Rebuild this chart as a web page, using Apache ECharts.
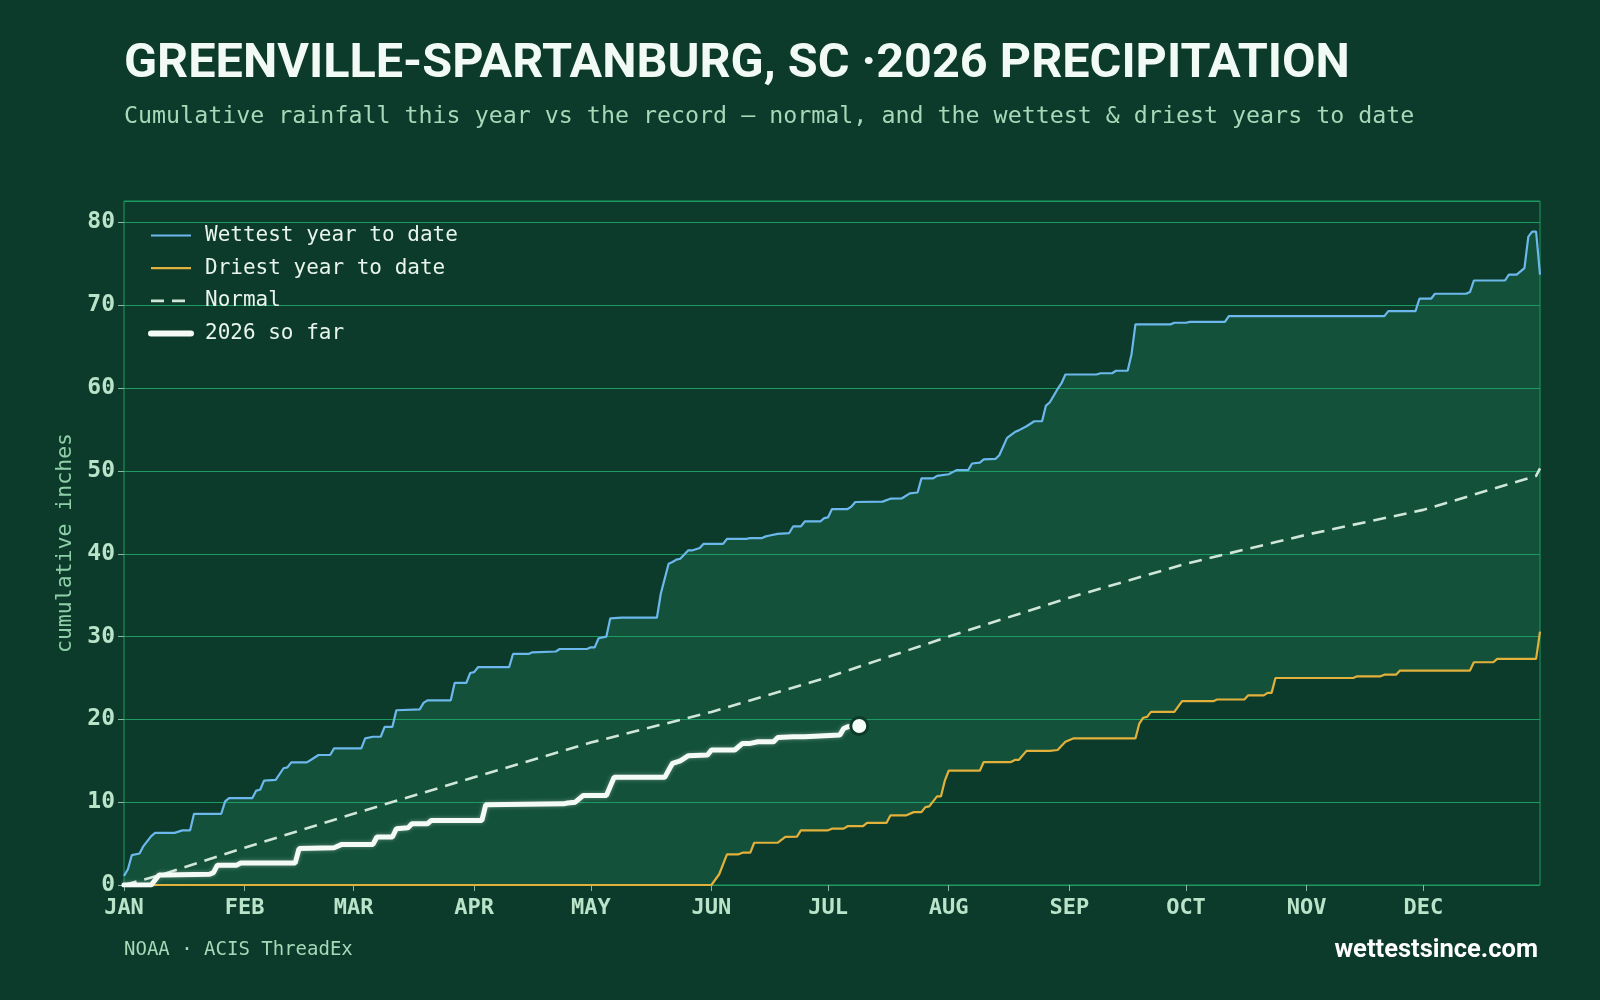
<!DOCTYPE html>
<html>
<head>
<meta charset="utf-8">
<script src="https://cdn.jsdelivr.net/npm/echarts@6/dist/echarts.min.js"></script>
<style>
  html, body { margin: 0; padding: 0; background: #0c3a2b; }
  #chart { width: 1600px; height: 1000px; }
</style>
</head>
<body>
<div id="chart"></div>
<script>
// day of year (0 = Jan 1) and cumulative inches
var monthStarts = [0, 31, 59, 90, 120, 151, 181, 212, 243, 273, 304, 334];
var monthLabels = ['JAN', 'FEB', 'MAR', 'APR', 'MAY', 'JUN', 'JUL', 'AUG', 'SEP', 'OCT', 'NOV', 'DEC'];

var wettest = [
  [0, 1.1], [1, 1.9], [2, 3.6], [4, 3.8], [5, 4.7], [7, 5.9], [8, 6.3], [13, 6.3], [15, 6.6], [17, 6.6],
  [18, 8.6], [25, 8.6], [26, 10.1], [27, 10.5], [33, 10.5], [34, 11.4], [35, 11.5], [36, 12.6], [39, 12.7],
  [41, 14.1], [42, 14.2], [43, 14.8], [47, 14.8], [48, 15.1], [49, 15.4], [50, 15.7], [53, 15.7], [54, 16.5],
  [61, 16.5], [62, 17.7], [64, 17.9], [66, 17.9], [67, 19.1], [69, 19.1], [70, 21.1], [76, 21.2], [77, 22.0],
  [78, 22.3], [84, 22.3], [85, 24.4], [88, 24.4], [89, 25.6], [90, 25.7], [91, 26.3], [99, 26.3], [100, 27.9],
  [104, 27.9], [105, 28.1], [111, 28.2], [112, 28.5], [119, 28.5], [120, 28.7], [121, 28.7], [122, 29.8],
  [124, 30.0], [125, 32.2], [128, 32.3], [137, 32.3], [138, 35.2], [140, 38.8], [141, 39.0], [142, 39.3],
  [143, 39.4], [145, 40.4], [146, 40.4], [148, 40.7], [149, 41.2], [154, 41.2], [155, 41.8], [160, 41.8],
  [161, 41.9], [164, 41.9], [165, 42.1], [166, 42.2], [168, 42.4], [171, 42.5], [172, 43.3], [174, 43.3],
  [175, 43.9], [179, 43.9], [180, 44.3], [181, 44.4], [182, 45.4], [186, 45.4], [187, 45.7], [188, 46.25],
  [195, 46.3], [197, 46.65], [200, 46.7], [202, 47.3], [204, 47.4], [205, 49.1], [208, 49.1], [209, 49.4],
  [212, 49.6], [214, 50.1], [217, 50.1], [218, 50.9], [220, 51.0], [221, 51.4], [224, 51.45], [225, 51.9],
  [227, 54.0], [229, 54.7], [230, 54.9], [232, 55.4], [234, 56.0], [236, 56.0], [237, 57.9], [238, 58.3],
  [240, 59.9], [241, 60.6], [242, 61.65], [250, 61.65], [251, 61.8], [254, 61.8], [255, 62.1], [258, 62.1],
  [259, 64.1], [260, 67.7], [269, 67.7], [270, 67.9], [273, 67.9], [274, 68.0], [283, 68.0], [284, 68.7],
  [324, 68.7], [325, 69.3], [332, 69.3], [333, 70.8], [336, 70.8], [337, 71.4], [345, 71.4], [346, 71.6],
  [347, 73.0], [355, 73.0], [356, 73.7], [358, 73.7], [359, 74.1], [360, 74.5], [361, 78.3], [362, 78.9],
  [363, 78.9], [364, 73.7]
];

var driest = [
  [0, 0], [151, 0], [153, 1.3], [155, 3.7], [158, 3.7], [159, 3.9], [161, 3.9], [162, 5.1], [168, 5.1],
  [170, 5.8], [173, 5.85], [174, 6.6], [181, 6.6], [182, 6.8], [185, 6.8], [186, 7.1], [190, 7.1], [191, 7.5],
  [196, 7.5], [197, 8.4], [201, 8.4], [203, 8.8], [205, 8.8], [206, 9.4], [207, 9.5], [209, 10.7], [210, 10.7],
  [211, 12.6], [212, 13.8], [220, 13.8], [221, 14.85], [228, 14.85], [229, 15.1], [230, 15.1], [232, 16.2],
  [238, 16.2], [240, 16.3], [242, 17.3], [244, 17.7], [260, 17.7], [261, 19.5], [262, 20.2], [263, 20.3],
  [264, 20.9], [270, 20.9], [272, 22.2], [280, 22.2], [281, 22.4], [288, 22.4], [289, 22.9], [293, 22.9],
  [294, 23.2], [295, 23.2], [296, 25.0], [316, 25.0], [317, 25.2], [323, 25.2], [324, 25.4], [327, 25.4],
  [328, 25.9], [346, 25.9], [347, 26.9], [352, 26.9], [353, 27.3], [363, 27.3], [364, 30.6]
];

var normal = [
  [0, 0], [10, 1.3], [31, 4.5], [59, 8.6], [90, 13.0], [120, 17.2], [151, 20.9], [181, 25.1], [212, 30.0],
  [243, 34.7], [273, 38.8], [304, 42.3], [334, 45.3], [363, 49.4], [364, 50.3]
];

var soFar = [
  [0, 0], [7, 0], [9, 1.2], [10, 1.2], [22, 1.3], [23, 1.5], [24, 2.4], [29, 2.4], [30, 2.65], [44, 2.65],
  [45, 4.4], [54, 4.5], [56, 4.9], [64, 4.9], [65, 5.8], [69, 5.8], [70, 6.8], [73, 6.9], [74, 7.4], [78, 7.4],
  [79, 7.8], [92, 7.8], [93, 9.7], [113, 9.8], [114, 9.9], [116, 10.0], [117, 10.4], [118, 10.8], [124, 10.8],
  [126, 13.0], [139, 13.0], [141, 14.7], [143, 15.0], [145, 15.6], [150, 15.7], [151, 16.3], [157, 16.3],
  [159, 17.1], [161, 17.1], [163, 17.3], [167, 17.3], [168, 17.8], [172, 17.9], [175, 17.9], [184, 18.1],
  [185, 18.9], [186, 19.1], [189, 19.2]
];

var mono = "'DejaVu Sans Mono', monospace";

var chart = echarts.init(document.getElementById('chart'), null, { renderer: 'canvas' });

var option = {
  backgroundColor: '#0c3a2b',
  animation: false,
  title: {
    text: 'GREENVILLE-SPARTANBURG, SC ·2026 PRECIPITATION',
    subtext: 'Cumulative rainfall this year vs the record — normal, and the wettest & driest years to date',
    left: 119,
    top: 35,
    itemGap: 16,
    textStyle: { fontFamily: 'Roboto', fontWeight: 700, fontSize: 48.6, color: '#f2faf5' },
    subtextStyle: { fontFamily: mono, fontSize: 23.3, color: '#a6d9b8' }
  },
  legend: {
    orient: 'vertical',
    left: 143,
    top: 220,
    itemWidth: 40,
    itemHeight: 14,
    itemGap: 11.7,
    itemStyle: { opacity: 0 },
    data: [
      { name: 'Wettest year to date', lineStyle: { width: 2.2 } },
      { name: 'Driest year to date', lineStyle: { width: 2.2 } },
      { name: 'Normal', lineStyle: { width: 2.6 } },
      { name: '2026 so far', lineStyle: { width: 6, cap: 'round' } }
    ],
    textStyle: { fontFamily: mono, fontSize: 21, color: '#e8f4ec', padding: [0, 0, 0, 9] }
  },
  grid: {
    left: 124, right: 60, top: 201, bottom: 115,
    show: true, borderColor: '#1d9a63', borderWidth: 1, backgroundColor: 'transparent'
  },
  xAxis: {
    type: 'value',
    min: 0,
    max: 364,
    axisLine: { show: false },
    splitLine: { show: false },
    axisTick: { show: true, customValues: monthStarts, length: 6, lineStyle: { color: '#8fb8a2' } },
    axisLabel: {
      customValues: monthStarts,
      margin: 12,
      fontFamily: mono, fontWeight: 'bold', fontSize: 22, color: '#b9e4c9',
      formatter: function (v) { return monthLabels[monthStarts.indexOf(v)]; }
    }
  },
  yAxis: {
    type: 'value',
    min: 0,
    max: 82.6,
    interval: 10,
    name: 'cumulative inches',
    nameLocation: 'middle',
    nameGap: 46,
    nameTextStyle: { fontFamily: mono, fontSize: 21.5, color: '#8fcfa8' },
    axisLine: { show: false },
    axisTick: { show: true, length: 6, lineStyle: { color: '#8fb8a2' } },
    splitLine: { show: true, lineStyle: { color: '#1d9a63', width: 1.2 } },
    axisLabel: {
      showMaxLabel: false,
      margin: 9,
      fontFamily: mono, fontWeight: 'bold', fontSize: 23, color: '#b9e4c9'
    }
  },
  series: [
    {
      // record envelope between wettest and driest
      type: 'custom',
      name: 'band',
      z: -1,
      silent: true,
      data: [0],
      renderItem: function (params, api) {
        var pts = [];
        wettest.forEach(function (p) { pts.push(api.coord(p)); });
        for (var i = driest.length - 1; i >= 0; i--) pts.push(api.coord(driest[i]));
        return { type: 'polygon', shape: { points: pts }, style: { fill: '#13513a' } };
      }
    },
    {
      name: 'Wettest year to date',
      type: 'line',
      data: wettest,
      symbol: 'none',
      lineStyle: { color: '#6cb8ec', width: 2.2 },
      itemStyle: { color: '#6cb8ec' }
    },
    {
      name: 'Driest year to date',
      type: 'line',
      data: driest,
      symbol: 'none',
      lineStyle: { color: '#e2b13c', width: 2.2 },
      itemStyle: { color: '#e2b13c' }
    },
    {
      name: 'Normal',
      type: 'line',
      data: normal,
      symbol: 'none',
      lineStyle: { color: '#cfe6d8', width: 2.6, type: [13, 8] },
      itemStyle: { color: '#cfe6d8' }
    },
    {
      name: '2026 so far',
      type: 'line',
      data: soFar,
      symbol: 'none',
      lineStyle: { color: '#f4fbf6', width: 5, cap: 'round', shadowBlur: 4, shadowColor: 'rgba(255,255,255,0.35)' },
      itemStyle: { color: '#f4fbf6' }
    },
    {
      type: 'scatter',
      name: 'latest',
      data: [soFar[soFar.length - 1]],
      symbolSize: 17,
      z: 5,
      itemStyle: { color: '#f6fcf8', opacity: 1, borderColor: '#0c3a2b', borderWidth: 3 }
    }
  ],
  graphic: [
    {
      type: 'text', left: 124, top: 941,
      style: { text: 'NOAA · ACIS ThreadEx', fontFamily: mono, fontSize: 19, fill: '#a6d9b8' }
    },
    {
      type: 'text', right: 62, top: 938,
      style: { text: 'wettestsince.com', fontFamily: 'Roboto', fontWeight: 700, fontSize: 25.5, fill: '#ffffff' }
    }
  ]
};

chart.setOption(option);
</script>
</body>
</html>
